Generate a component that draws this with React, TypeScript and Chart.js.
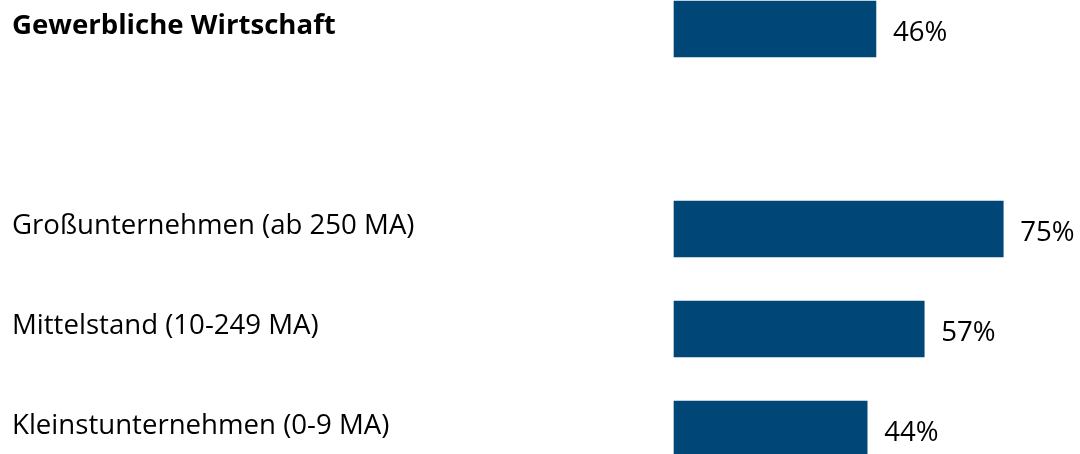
import React, { useEffect, useRef } from "react";
import { Chart, registerables } from "chart.js";

Chart.register(...registerables);

const categories = [
  "Gewerbliche Wirtschaft",
  "",
  "Großunternehmen (ab 250 MA)",
  "Mittelstand (10-249 MA)",
  "Kleinstunternehmen (0-9 MA)",
];
const values: (number | null)[] = [46, null, 75, 57, 44];
const valueLabels = ["46%", "", "75%", "57%", "44%"];

const BAR_COLOR = "#004677";
const FONT = "'Open Sans', sans-serif";
const FONT_SIZE = 27.6;

const valueLabelPlugin = {
  id: "valueLabels",
  afterDatasetsDraw(chart: any) {
    const ctx = chart.ctx;
    const meta = chart.getDatasetMeta(0);
    ctx.save();
    ctx.font = `${FONT_SIZE}px ${FONT}`;
    ctx.fillStyle = "#000";
    ctx.textBaseline = "middle";
    ctx.textAlign = "left";
    meta.data.forEach((bar: any, i: number) => {
      if (values[i] == null) return;
      ctx.fillText(valueLabels[i], bar.x + 17, bar.y + 4);
    });
    ctx.restore();
  },
};

export default function App() {
  const ref = useRef<HTMLCanvasElement | null>(null);
  useEffect(() => {
    if (!ref.current) return;
    const chart = new Chart(ref.current, {
      type: "bar",
      data: {
        labels: categories,
        datasets: [
          {
            data: values,
            backgroundColor: BAR_COLOR,
            barThickness: 56,
            clip: false as any,
          },
        ],
      },
      options: {
        indexAxis: "y",
        animation: false,
        responsive: false,
        maintainAspectRatio: false,
        layout: { padding: { left: 12, top: 29, bottom: 25, right: 0 } },
        plugins: {
          legend: { display: false },
          tooltip: { enabled: false },
        },
        scales: {
          x: {
            min: 0,
            max: 100,
            display: false,
            grid: { display: false },
          },
          y: {
            offset: false,
            grid: { display: false, drawTicks: false },
            border: { display: false },
            afterFit: (scale: any) => {
              scale.width = 662;
            },
            ticks: {
              crossAlign: "far",
              padding: 0,
              labelOffset: -3,
              color: "#000",
              autoSkip: false,
              font: (c: any) => ({
                family: FONT,
                size: FONT_SIZE,
                weight: c.index === 0 ? "bold" : "normal",
              }),
            },
          },
        },
      },
      plugins: [valueLabelPlugin],
    });
    return () => chart.destroy();
  }, []);
  return (
    <div
      style={{
        position: "fixed",
        left: 0,
        top: 0,
        width: 1080,
        height: 454,
        overflow: "hidden",
        background: "#fff",
      }}
    >
      <canvas ref={ref} width={1113} height={454} style={{ display: "block" }} />
    </div>
  );
}
